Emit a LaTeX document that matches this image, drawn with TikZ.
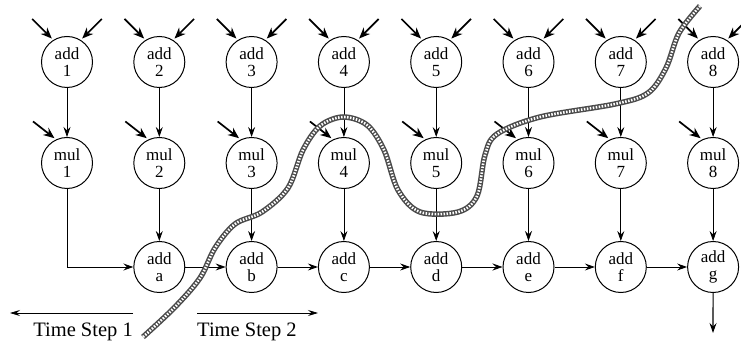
\documentclass[tikz,border=0pt]{standalone}
\usepackage{fontspec}
\setmainfont{Liberation Serif}
\usetikzlibrary{arrows.meta}
\begin{document}
\begin{tikzpicture}[x=1pt,y=-1pt,
  op/.style={circle,draw,line width=1pt,minimum size=51pt,inner sep=0pt,
    align=center,font=\fontsize{17}{17.5}\selectfont},
  flow/.style={line width=0.8pt,-{Stealth[length=10pt,width=7pt,inset=3.5pt]}},
  inarrow/.style={line width=1.7pt,-{Stealth[length=11pt,width=9pt,inset=3.5pt]},shorten >=2pt},
  steparrow/.style={line width=0.8pt,-{Stealth[length=10pt,width=6pt,inset=3.5pt]}},
  steplabel/.style={font=\fontsize{20.5}{22}\selectfont,inner sep=0pt}]
  \useasboundingbox (0,0) rectangle (741,344);

  % adders and multipliers, one column per index
  \foreach \i in {1,...,8} {
    \pgfmathsetmacro{\cx}{67+(\i-1)*92.3}
    \node[op] (a\i) at (\cx,62) {add\\\i};
    \node[op] (m\i) at (\cx,163) {mul\\\i};
    \draw[flow] (a\i) -- (m\i);
    \draw[inarrow] (a\i.122) ++(-21,-21) -- (a\i.122);
    \draw[inarrow] (a\i.58) ++(21,-21) -- (a\i.58);
    \draw[inarrow] (m\i.115) ++(-23,-18) -- (m\i.115);
  }

  % accumulation chain
  \foreach \c [count=\k from 2] in {a,b,c,d,e,f,g} {
    \pgfmathsetmacro{\cx}{67+(\k-1)*92.3}
    \node[op] (s\c) at (\cx,267) {add\\\c};
    \draw[flow] (m\k) -- (s\c);
  }
  \draw[flow] (m1.south) |- (sa.west);
  \foreach \p/\q in {a/b,b/c,c/d,d/e,e/f,f/g}
    \draw[flow] (s\p) -- (s\q);
  \coordinate (out) at (713,333);
  \draw[line width=1.1pt,-{Stealth[length=10pt,width=7pt,inset=3.5pt]}] (sg) -- (out);

  % time step labels
  \coordinate (t1a) at (133,313);
  \coordinate (t1b) at (10,313);
  \coordinate (t2a) at (197,313);
  \coordinate (t2b) at (318,313);
  \draw[steparrow] (t1a) -- (t1b);
  \draw[steparrow] (t2a) -- (t2b);
  \node[steplabel,anchor=east] (ts1) at (133,332) {Time Step 1};
  \node[steplabel,anchor=west] (ts2) at (197,332) {Time Step 2};

  % boundary between the two time steps
  \def\cutpath{plot[smooth,tension=0.55] coordinates {
    (143,337) (175,307) (200,278) (215,248) (235,224) (262,212) (288,188)
    (303,150) (320,126) (343,117) (367,125) (384,150) (398,190) (420,212)
    (458,212) (477,196) (485,155) (497,134) (540,117) (615,104) (648,93)
    (666,68) (679,33) (700,6)}}
  \draw[line width=5.5pt,black!70] \cutpath;
  \draw[line width=2.6pt,white,dash pattern=on 1.5pt off 1.5pt] \cutpath;
\end{tikzpicture}
\end{document}
